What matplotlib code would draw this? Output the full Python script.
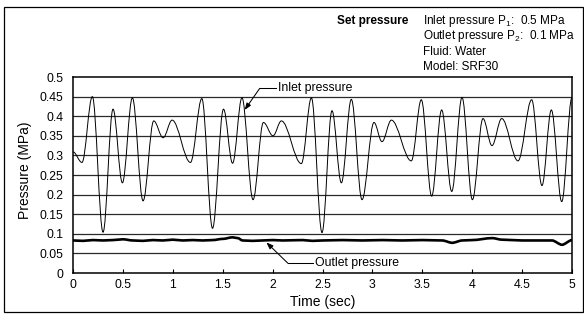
import numpy as np
import matplotlib
matplotlib.use("Agg")
import matplotlib.pyplot as plt
from matplotlib.path import Path
from matplotlib.patches import PathPatch, Rectangle

plt.rcParams['font.family'] = ['Liberation Sans', 'DejaVu Sans']
plt.rcParams['mathtext.fontset'] = 'custom'
plt.rcParams['mathtext.rm'] = 'Liberation Sans'

# extrema of inlet pressure (time in sec, MPa)
inlet_t = [0.00, 0.09, 0.194, 0.301, 0.401, 0.495, 0.595, 0.702, 0.809, 0.903,
           0.993, 1.177, 1.291, 1.398, 1.508, 1.599, 1.693, 1.804, 1.908, 2.004,
           2.088, 2.288, 2.389, 2.495, 2.595, 2.689, 2.789, 2.896, 3.016, 3.096,
           3.190, 3.390, 3.490, 3.594, 3.694, 3.795, 3.898, 4.002, 4.108, 4.198,
           4.296, 4.459, 4.596, 4.699, 4.793, 4.897, 5.000]
inlet_p = [0.309, 0.282, 0.450, 0.104, 0.418, 0.230, 0.447, 0.184, 0.388, 0.345,
           0.390, 0.282, 0.445, 0.114, 0.418, 0.280, 0.447, 0.187, 0.384, 0.350,
           0.388, 0.279, 0.447, 0.103, 0.414, 0.230, 0.443, 0.187, 0.384, 0.335,
           0.390, 0.286, 0.442, 0.196, 0.416, 0.208, 0.448, 0.187, 0.394, 0.325,
           0.394, 0.286, 0.442, 0.223, 0.416, 0.182, 0.448]

outlet_t = [0.0, 0.1, 0.2, 0.3, 0.4, 0.5, 0.6, 0.7, 0.8, 0.9, 1.0, 1.1, 1.2, 1.3,
            1.4, 1.5, 1.6, 1.65, 1.7, 1.8, 1.9, 2.0, 2.1, 2.3, 2.4, 2.5, 2.7, 2.9,
            3.1, 3.3, 3.5, 3.7, 3.8, 3.9, 4.0, 4.2, 4.3, 4.5, 4.7, 4.8, 4.9, 5.0]
outlet_p = [0.083, 0.082, 0.084, 0.083, 0.084, 0.086, 0.083, 0.082, 0.084, 0.083,
            0.085, 0.083, 0.084, 0.083, 0.084, 0.087, 0.091, 0.089, 0.083, 0.082,
            0.083, 0.084, 0.083, 0.084, 0.082, 0.083, 0.084, 0.083, 0.084, 0.083,
            0.084, 0.083, 0.077, 0.083, 0.084, 0.089, 0.085, 0.083, 0.083, 0.083,
            0.072, 0.084]

x_ticks = [0, 0.5, 1, 1.5, 2, 2.5, 3, 3.5, 4, 4.5, 5]
x_labels = ['0', '0.5', '1', '1.5', '2', '2.5', '3', '3.5', '4', '4.5', '5']
y_ticks = [0, 0.05, 0.1, 0.15, 0.2, 0.25, 0.3, 0.35, 0.4, 0.45, 0.5]
y_labels = ['0', '0.05', '0.1', '0.15', '0.2', '0.25', '0.3', '0.35', '0.4', '0.45', '0.5']

header_lines = [r'Inlet pressure P$_{1}$:  0.5 MPa', r'Outlet pressure P$_{2}$:  0.1 MPa',
                'Fluid: Water', 'Model: SRF30']


def smooth_path(ts, ps, k=0.36):
    # bezier through the read extrema, flat tangent at each one
    verts = [(ts[0], ps[0])]
    codes = [Path.MOVETO]
    for i in range(1, len(ts)):
        dx = ts[i] - ts[i - 1]
        verts += [(ts[i - 1] + k * dx, ps[i - 1]), (ts[i] - k * dx, ps[i]), (ts[i], ps[i])]
        codes += [Path.CURVE4] * 3
    return Path(verts, codes)


W, H = 584, 316
fig = plt.figure(figsize=(W / 100, H / 100), dpi=100)
ax = fig.add_axes([73 / W, 1 - 273 / H, (572 - 73) / W, (273 - 77) / H])

fig.patches.append(Rectangle((4 / W, 1 - 312 / H), 579 / W, 305 / H, transform=fig.transFigure,
                             fill=False, edgecolor='black', lw=0.9))

for yv in y_ticks[1:-1]:
    ax.axhline(yv, color='#2a2a2a', lw=0.9, zorder=1)

ax.add_patch(PathPatch(smooth_path(inlet_t, inlet_p), fill=False, edgecolor='black', lw=0.7, zorder=3))
ax.add_patch(PathPatch(smooth_path(outlet_t, outlet_p, 0.3), fill=False, edgecolor='black', lw=1.9, zorder=3))

ax.set_xlim(0, 5)
ax.set_ylim(0, 0.5)
ax.set_xticks(x_ticks)
ax.set_xticklabels(x_labels)
ax.set_yticks(y_ticks)
ax.set_yticklabels(y_labels)
ax.tick_params(axis='x', direction='in', length=3, width=0.8, pad=4, labelsize=8.8)
ax.tick_params(axis='y', length=0, pad=7, labelsize=8.8)
for s in ax.spines.values():
    s.set_linewidth(1.1)

ax.set_xlabel('Time (sec)', fontsize=10, labelpad=3)
fig.text(25 / W, 1 - 170 / H, 'Pressure (MPa)', rotation=90, fontsize=10, ha='center', va='center')

# annotations
ax.plot([1.871, 2.038], [0.471, 0.471], color='black', lw=0.75, zorder=4)
ax.annotate('', xy=(1.72, 0.416), xytext=(1.871, 0.471),
            arrowprops=dict(arrowstyle='-|>,head_length=0.4,head_width=0.15', color='black', lw=0.75,
                            shrinkA=0, shrinkB=0), zorder=4)
ax.text(2.05, 0.471, 'Inlet pressure', fontsize=8.8, va='center', ha='left', zorder=4)

ax.plot([2.154, 2.405], [0.0247, 0.0247], color='black', lw=0.75, zorder=4)
ax.annotate('', xy=(1.938, 0.078), xytext=(2.154, 0.0247),
            arrowprops=dict(arrowstyle='-|>,head_length=0.4,head_width=0.15', color='black', lw=0.75,
                            shrinkA=0, shrinkB=0), zorder=4)
ax.text(2.42, 0.0247, 'Outlet pressure', fontsize=8.8, va='center', ha='left', zorder=4)

# header block
fig.text(408 / W, 1 - 24 / H, 'Set pressure', fontsize=8.5, fontweight='bold', ha='right', va='baseline')
for i, line in enumerate(header_lines):
    fig.text(423 / W, 1 - (24 + 15.5 * i) / H, line, fontsize=8.5, ha='left', va='baseline')

fig.savefig('out.png', dpi=100)
